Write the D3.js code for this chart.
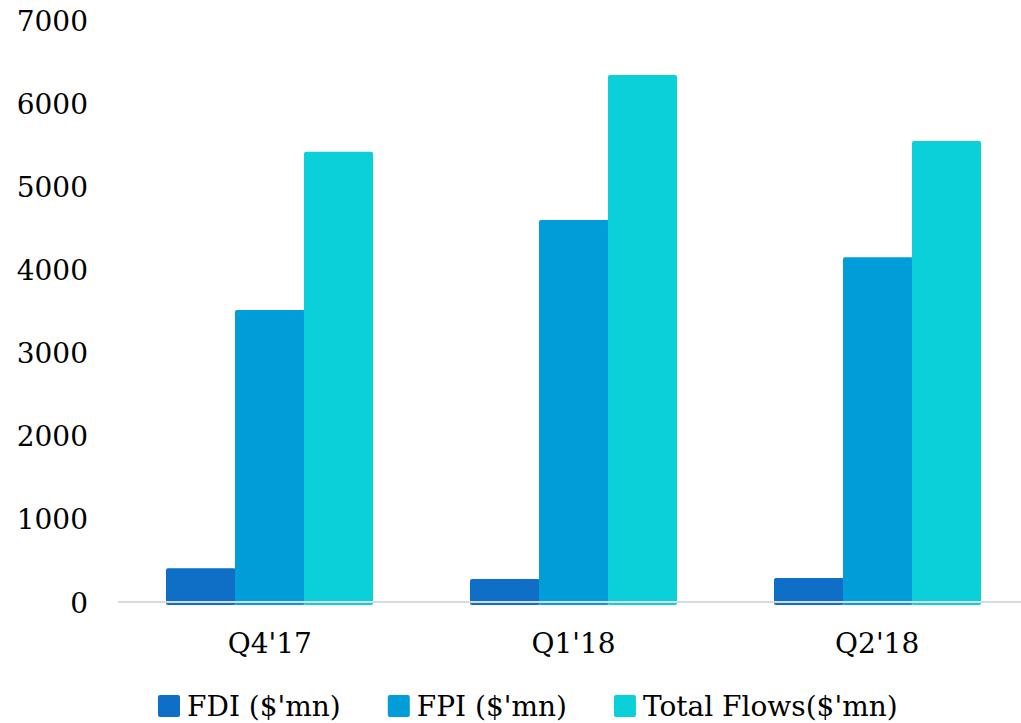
<!DOCTYPE html>
<html>
<head>
<meta charset="utf-8">
<script src="https://cdn.jsdelivr.net/npm/d3@7"></script>
<style>
  html, body { margin: 0; padding: 0; background: #ffffff; }
  svg { display: block; }
  text { font-family: "DejaVu Serif", "Liberation Serif", serif; fill: #000; }
</style>
</head>
<body>
<svg id="chart" width="1021" height="723"></svg>
<script>
// Quarterly capital flows, $ million
const quarters = ["Q4'17", "Q1'18", "Q2'18"];
const seriesNames = ["FDI ($'mn)", "FPI ($'mn)", "Total Flows($'mn)"];
const fdiValues = [405, 277, 289];
const fpiValues = [3512, 4595, 4146];
const totalFlowValues = [5416, 6339, 5545];
const yTicks = [0, 1000, 2000, 3000, 4000, 5000, 6000, 7000];
const seriesColors = ["#0F6FC6", "#009DD9", "#0BD0D9"];

const seriesValues = [fdiValues, fpiValues, totalFlowValues];

const svg = d3.select("#chart");
const fontSize = 28;

// Scales
const x = d3.scaleBand()
  .domain(quarters)
  .range([118, 1029])
  .paddingInner(0.318)
  .paddingOuter(0.159);

const xInner = d3.scaleBand()
  .domain(d3.range(seriesNames.length))
  .range([0, x.bandwidth()])
  .padding(0);

const y = d3.scaleLinear()
  .domain([0, 7000])
  .range([602, 20]);

const color = d3.scaleOrdinal().domain(d3.range(seriesNames.length)).range(seriesColors);

// Y axis labels (no axis line, no gridlines)
const yAxis = d3.axisLeft(y).tickValues(yTicks).tickSize(0).tickPadding(0).tickFormat(d3.format("d"));
const yG = svg.append("g").attr("transform", "translate(88,0)").call(yAxis);
yG.select(".domain").remove();
yG.selectAll("text")
  .style("font-family", "'DejaVu Serif', serif")
  .style("font-size", fontSize + "px")
  .attr("fill", "#000")
  .attr("dy", "0.36em");

// Bars
const rows = quarters.map((q, i) => ({ q, vals: seriesValues.map(s => s[i]) }));
const groups = svg.append("g").selectAll("g")
  .data(rows)
  .join("g")
  .attr("transform", d => `translate(${Math.round(x(d.q))},0)`);

groups.selectAll("rect")
  .data(d => d.vals.map((v, k) => ({ k, v })))
  .join("rect")
  .attr("x", d => Math.round(xInner(d.k)))
  .attr("width", d => Math.round(xInner(d.k) + xInner.bandwidth()) - Math.round(xInner(d.k)) + (d.k < seriesNames.length - 1 ? 1 : 0))
  .attr("y", d => y(d.v))
  .attr("height", d => y(0) - y(d.v) + 3)
  .attr("rx", 2)
  .attr("fill", d => color(d.k));

// Baseline
svg.append("line")
  .attr("x1", 118).attr("x2", 1021)
  .attr("y1", y(0)).attr("y2", y(0))
  .attr("stroke", "#d9d9d9")
  .attr("stroke-width", 2);

// X axis labels
const xAxis = d3.axisBottom(x).tickSize(0).tickPadding(0);
const xG = svg.append("g").attr("transform", "translate(0,643)").call(xAxis);
xG.select(".domain").remove();
xG.selectAll("text")
  .style("font-family", "'DejaVu Serif', serif")
  .style("font-size", fontSize + "px")
  .attr("fill", "#000")
  .attr("dy", "0.36em");

// Legend
const legend = svg.append("g").attr("transform", "translate(158,706)");
let cursor = 0;
seriesNames.forEach((name, k) => {
  const item = legend.append("g").attr("transform", `translate(${cursor},0)`);
  item.append("rect")
    .attr("x", 0).attr("y", -11)
    .attr("width", 22).attr("height", 22)
    .attr("rx", 2)
    .attr("fill", color(k));
  const t = item.append("text")
    .attr("x", 29).attr("y", 0)
    .attr("dy", "0.36em")
    .style("font-size", fontSize + "px")
    .text(name);
  cursor += 29 + t.node().getComputedTextLength() + 47;
});
</script>
</body>
</html>
